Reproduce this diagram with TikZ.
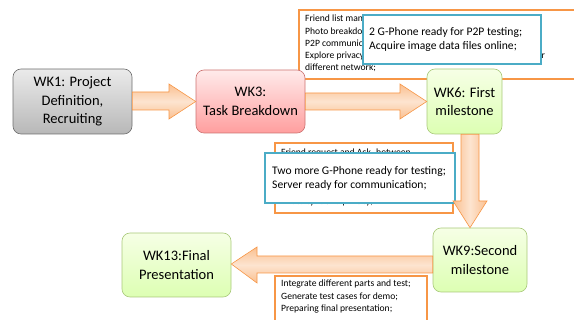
\documentclass[tikz,border=0pt]{standalone}
\usepackage{fontspec}
\setmainfont{Carlito}
\usetikzlibrary{calc}
\definecolor{arrowline}{HTML}{F79646}
\definecolor{arrowlight}{HTML}{FDE4D0}
\definecolor{arrowdark}{HTML}{FAC090}
\definecolor{noteorange}{HTML}{F79646}
\definecolor{noteblue}{HTML}{4BACC6}
\definecolor{grayline}{HTML}{6E6E6E}
\definecolor{pinkline}{HTML}{C0504D}
\definecolor{greenline}{HTML}{A9C97A}
\tikzset{
  week/.style={rounded corners=8pt, inner sep=0pt, align=center,
    font=\fontsize{14.5}{18.5}\selectfont, line width=0.6pt},
  graywk/.style={week, draw=grayline, top color=white!92!black, bottom color=white!72!black},
  pinkwk/.style={week, draw=pinkline!80, top color=red!8, bottom color=red!38},
  greenwk/.style={week, draw=greenline, top color=green!35!yellow!10, bottom color=green!45!yellow!30},
  blockarrow/.style={draw=arrowline, line width=0.6pt, line join=miter},
  harrow/.style={blockarrow, top color=arrowdark, bottom color=arrowdark, middle color=arrowlight},
  varrow/.style={blockarrow, left color=arrowdark, right color=arrowdark, middle color=arrowlight},
  orangenote/.style={draw=noteorange, fill=white, line width=1.3pt},
  bluenote/.style={draw=noteblue, fill=white, line width=1.4pt},
  smalltext/.style={inner sep=0pt, align=left, font=\fontsize{9.6}{12.2}\selectfont},
  bigtext/.style={inner sep=0pt, align=left, font=\fontsize{11.6}{13.5}\selectfont},
}
\begin{document}
\begin{tikzpicture}[x=1pt, y=-1pt]
\useasboundingbox (0,0) rectangle (574,320);

% task notes behind the milestones
\draw[orangenote] (299,10) rectangle (580,79);
\node[smalltext, anchor=north west] (notea) at (305,15)
  {Friend list management;\\Photo breakdown and sharing;\\P2P communication between G-Phones;\\Explore privacy protection and data transmission methods for\\different network;};
\draw[bluenote] (363,15) rectangle (541,64);
\node[bigtext, anchor=west] (goala) at (369,39.5)
  {2 G-Phone ready for P2P testing;\\Acquire image data files online;};

\draw[orangenote] (275,143) rectangle (453,213);
\node[smalltext, anchor=north west] (noteb) at (281,149)
  {Friend request and Ack. between\\G-Phones and server;\\Image search on server;\\Photo upload from phones;\\Photo sync and privacy;};
\draw[bluenote] (265,153) rectangle (455,203);
\node[bigtext, anchor=west] (goalb) at (272,178.5)
  {Two more G-Phone ready for testing;\\Server ready for communication;};

\draw[orangenote] (275,276) rectangle (427,330);
\node[smalltext, anchor=north west] (notec) at (281,280)
  {Integrate different parts and test;\\Generate test cases for demo;\\Preparing final presentation;};

% milestone boxes
\node[graywk, minimum width=119pt, minimum height=65pt] (wk1) at (72.5,101.5)
  {WK1: Project\\Definition,\\Recruiting};
\node[pinkwk, minimum width=109pt, minimum height=63pt] (wk3) at (250.5,101.5)
  {WK3:\\Task Breakdown};
\node[greenwk, minimum width=75pt, minimum height=65pt] (wk6) at (464.5,101.5)
  {WK6: First\\milestone};
\node[greenwk, minimum width=94pt, minimum height=64pt] (wk9) at (480,260)
  {WK9:Second\\milestone};
\node[greenwk, minimum width=109pt, minimum height=64pt] (wk13) at (176.5,265)
  {WK13:Final\\Presentation};

% block arrows between milestones
\path[harrow] (wk1.east |- 0,92) -- (169,92) -- (169,84) -- (wk3.west |- 0,101.5)
  -- (169,119) -- (169,110) -- (wk1.east |- 0,110) -- cycle;
\path[harrow] (wk3.east |- 0,93) -- (400,93) -- (400,84) -- (wk6.west |- 0,101.5)
  -- (400,119) -- (400,110) -- (wk3.east |- 0,110) -- cycle;
\path[varrow] (461,0 |- wk6.south) -- (461,201) -- (453,201) -- (470,0 |- wk9.north)
  -- (487,201) -- (479,201) -- (479,0 |- wk6.south) -- cycle;
\path[harrow] (wk9.west |- 0,256) -- (257,256) -- (257,247) -- (wk13.east |- 0,264)
  -- (257,283) -- (257,273) -- (wk9.west |- 0,273) -- cycle;
\end{tikzpicture}
\end{document}
